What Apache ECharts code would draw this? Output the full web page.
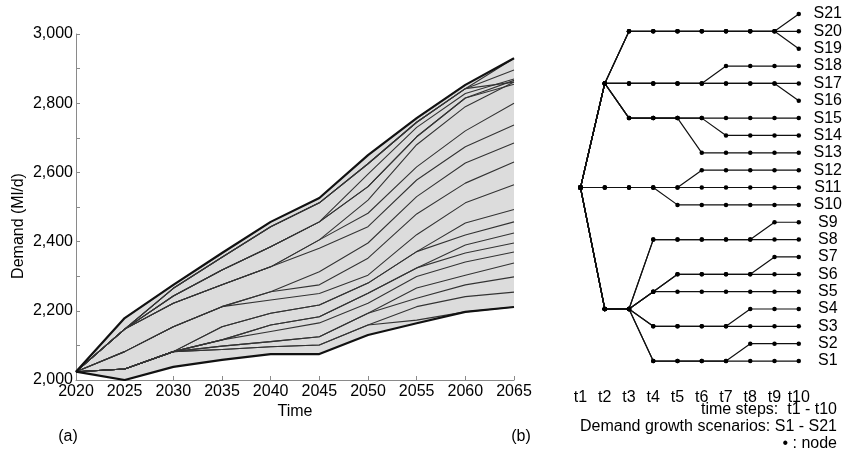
<!DOCTYPE html>
<html><head><meta charset="utf-8">
<script src="https://cdn.jsdelivr.net/npm/echarts@6/dist/echarts.min.js"></script>
<style>html,body{margin:0;padding:0;background:#fff}#c{width:845px;height:460px}</style>
</head><body><div id="c"></div>
<script>
// ---------- DATA ----------
const years = ['2020','2025','2030','2035','2040','2045','2050','2055','2060','2065'];
const yTicks = [2000, 2200, 2400, 2600, 2800, 3000];
const timeSteps = ['t1','t2','t3','t4','t5','t6','t7','t8','t9','t10'];
const scenarioNames = ['S1','S2','S3','S4','S5','S6','S7','S8','S9','S10','S11','S12','S13','S14','S15','S16','S17','S18','S19','S20','S21'];

const upperEnvelope = [2024, 2179, 2275, 2367, 2457, 2526, 2650, 2757, 2853, 2930];
const lowerEnvelope = [2024, 2000, 2038, 2058, 2075, 2075, 2130, 2164, 2197, 2211];

const demandS1  = [2024, 2032, 2082, 2088, 2096, 2101, 2159, 2173, 2197, 2211];
const demandS2  = [2024, 2032, 2082, 2088, 2096, 2101, 2159, 2212, 2241, 2254];
const demandS3  = [2024, 2032, 2082, 2098, 2111, 2125, 2193, 2236, 2275, 2298];
const demandS4  = [2024, 2032, 2082, 2098, 2111, 2125, 2193, 2266, 2303, 2338];
const demandS5  = [2024, 2032, 2082, 2116, 2140, 2165, 2222, 2299, 2341, 2370];
const demandS6  = [2024, 2032, 2082, 2116, 2159, 2183, 2251, 2324, 2367, 2396];
const demandS7  = [2024, 2032, 2082, 2116, 2159, 2183, 2251, 2324, 2390, 2425];
const demandS8  = [2024, 2032, 2082, 2154, 2193, 2217, 2280, 2371, 2419, 2457];
const demandS9  = [2024, 2032, 2082, 2154, 2193, 2217, 2280, 2371, 2454, 2493];
const demandS10 = [2024, 2082, 2154, 2212, 2231, 2250, 2303, 2420, 2512, 2564];
const demandS11 = [2024, 2082, 2154, 2212, 2255, 2275, 2352, 2480, 2569, 2630];
const demandS12 = [2024, 2082, 2154, 2212, 2255, 2313, 2396, 2530, 2627, 2685];
const demandS13 = [2024, 2147, 2222, 2275, 2327, 2381, 2443, 2578, 2674, 2737];
const demandS14 = [2024, 2147, 2222, 2275, 2327, 2405, 2482, 2616, 2720, 2800];
const demandS15 = [2024, 2147, 2222, 2275, 2327, 2405, 2520, 2680, 2790, 2861];
const demandS16 = [2024, 2147, 2243, 2318, 2385, 2457, 2559, 2703, 2815, 2855];
const demandS17 = [2024, 2147, 2243, 2318, 2385, 2457, 2559, 2703, 2815, 2866];
const demandS18 = [2024, 2147, 2243, 2318, 2385, 2457, 2595, 2730, 2828, 2870];
const demandS19 = [2024, 2147, 2265, 2355, 2443, 2512, 2625, 2745, 2842, 2861];
const demandS20 = [2024, 2147, 2265, 2355, 2443, 2512, 2625, 2745, 2842, 2896];
const demandS21 = [2024, 2147, 2265, 2355, 2443, 2512, 2625, 2745, 2842, 2930];

// scenario tree: row (scenario level) occupied at each time step t1..t10
const rowsS1  = [11, 4, 4, 1, 1, 1, 1, 1, 1, 1];
const rowsS2  = [11, 4, 4, 1, 1, 1, 1, 2, 2, 2];
const rowsS3  = [11, 4, 4, 3, 3, 3, 3, 3, 3, 3];
const rowsS4  = [11, 4, 4, 3, 3, 3, 3, 4, 4, 4];
const rowsS5  = [11, 4, 4, 5, 5, 5, 5, 5, 5, 5];
const rowsS6  = [11, 4, 4, 5, 6, 6, 6, 6, 6, 6];
const rowsS7  = [11, 4, 4, 5, 6, 6, 6, 6, 7, 7];
const rowsS8  = [11, 4, 4, 8, 8, 8, 8, 8, 8, 8];
const rowsS9  = [11, 4, 4, 8, 8, 8, 8, 8, 9, 9];
const rowsS10 = [11, 11, 11, 11, 10, 10, 10, 10, 10, 10];
const rowsS11 = [11, 11, 11, 11, 11, 11, 11, 11, 11, 11];
const rowsS12 = [11, 11, 11, 11, 11, 12, 12, 12, 12, 12];
const rowsS13 = [11, 17, 15, 15, 15, 13, 13, 13, 13, 13];
const rowsS14 = [11, 17, 15, 15, 15, 15, 14, 14, 14, 14];
const rowsS15 = [11, 17, 15, 15, 15, 15, 15, 15, 15, 15];
const rowsS16 = [11, 17, 17, 17, 17, 17, 17, 17, 17, 16];
const rowsS17 = [11, 17, 17, 17, 17, 17, 17, 17, 17, 17];
const rowsS18 = [11, 17, 17, 17, 17, 17, 18, 18, 18, 18];
const rowsS19 = [11, 17, 20, 20, 20, 20, 20, 20, 20, 19];
const rowsS20 = [11, 17, 20, 20, 20, 20, 20, 20, 20, 20];
const rowsS21 = [11, 17, 20, 20, 20, 20, 20, 20, 20, 21];

const demandList = [demandS1,demandS2,demandS3,demandS4,demandS5,demandS6,demandS7,demandS8,demandS9,demandS10,demandS11,demandS12,demandS13,demandS14,demandS15,demandS16,demandS17,demandS18,demandS19,demandS20,demandS21];
const rowsList = [rowsS1,rowsS2,rowsS3,rowsS4,rowsS5,rowsS6,rowsS7,rowsS8,rowsS9,rowsS10,rowsS11,rowsS12,rowsS13,rowsS14,rowsS15,rowsS16,rowsS17,rowsS18,rowsS19,rowsS20,rowsS21];

// ---------- CHART ----------
const FONT = 'Liberation Sans, Arial, sans-serif';
const FS = 16;
const AXIS_GRAY = '#8a8a8a';
const chart = echarts.init(document.getElementById('c'), null, {renderer: 'canvas'});

const series = [];
series.push({
  type: 'line', xAxisIndex: 0, yAxisIndex: 0, stack: 'band', data: lowerEnvelope,
  symbol: 'none', lineStyle: {opacity: 0}, silent: true, z: 1
});
series.push({
  type: 'line', xAxisIndex: 0, yAxisIndex: 0, stack: 'band',
  data: upperEnvelope.map((v, i) => v - lowerEnvelope[i]),
  symbol: 'none', lineStyle: {opacity: 0}, areaStyle: {color: '#dcdcdc', opacity: 1}, silent: true, z: 1
});
demandList.forEach((d, i) => {
  series.push({
    type: 'line', name: scenarioNames[i], xAxisIndex: 0, yAxisIndex: 0, data: d,
    symbol: 'none', lineStyle: {color: '#333', width: 1.1}, silent: true, z: 3
  });
});
[upperEnvelope, lowerEnvelope].forEach(d => {
  series.push({
    type: 'line', xAxisIndex: 0, yAxisIndex: 0, data: d,
    symbol: 'none', lineStyle: {color: '#111', width: 2.2}, silent: true, z: 4
  });
});
rowsList.forEach((r, i) => {
  series.push({
    type: 'line', name: 'tree' + scenarioNames[i], xAxisIndex: 1, yAxisIndex: 1,
    data: r.map((row, t) => [t + 1, row]),
    symbol: 'circle', symbolSize: 4.5, showAllSymbol: true,
    itemStyle: {color: '#000'}, lineStyle: {color: '#111', width: 1.2}, silent: true, z: 3
  });
});

const option = {
  animation: false,
  backgroundColor: '#fff',
  textStyle: {fontFamily: FONT},
  grid: [
    {left: 76, top: 34, width: 438, height: 346},
    {left: 580.5, top: 14, width: 220.5, height: 364.4}
  ],
  xAxis: [
    {
      gridIndex: 0, type: 'category', data: years, boundaryGap: false,
      axisLine: {lineStyle: {color: AXIS_GRAY, width: 1}},
      axisTick: {inside: true, length: 4, lineStyle: {color: AXIS_GRAY}},
      axisLabel: {color: '#000', fontSize: FS, margin: 4, fontFamily: FONT},
      splitLine: {show: false}
    },
    {
      gridIndex: 1, type: 'value', min: 1, max: 10, interval: 1,
      axisLine: {show: false}, axisTick: {show: false}, splitLine: {show: false},
      axisLabel: {color: '#000', fontSize: FS, margin: 11, fontFamily: FONT,
        formatter: v => timeSteps[v - 1] || ''}
    }
  ],
  yAxis: [
    {
      gridIndex: 0, type: 'value', min: 2000, max: 3000, interval: 100,
      axisLine: {show: true, lineStyle: {color: AXIS_GRAY, width: 1}},
      axisTick: {show: true, inside: true, length: 4, lineStyle: {color: AXIS_GRAY}},
      axisLabel: {color: '#000', fontSize: FS, margin: 3, fontFamily: FONT,
        formatter: v => yTicks.indexOf(v) >= 0 ? v.toLocaleString('en-US') : ''},
      splitLine: {show: false}
    },
    {
      gridIndex: 1, type: 'value', min: 0, max: 21, interval: 1, position: 'right',
      axisLine: {show: false}, axisTick: {show: false}, splitLine: {show: false},
      axisLabel: {color: '#000', fontSize: FS, margin: 29, align: 'center', fontFamily: FONT,
        formatter: v => (v >= 1 ? scenarioNames[v - 1] : '')}
    }
  ],
  graphic: [
    {type: 'text', x: 19, y: 226, rotation: Math.PI / 2,
      style: {text: 'Demand (Ml/d)', font: FS + 'px ' + FONT, fill: '#000', textAlign: 'center', textVerticalAlign: 'middle'}},
    {type: 'text', x: 295, y: 412,
      style: {text: 'Time', font: FS + 'px ' + FONT, fill: '#000', textAlign: 'center', textVerticalAlign: 'middle'}},
    {type: 'text', x: 68, y: 437,
      style: {text: '(a)', font: FS + 'px ' + FONT, fill: '#000', textAlign: 'center', textVerticalAlign: 'middle'}},
    {type: 'text', x: 521, y: 437,
      style: {text: '(b)', font: FS + 'px ' + FONT, fill: '#000', textAlign: 'center', textVerticalAlign: 'middle'}},
    {type: 'text', x: 837, y: 410,
      style: {text: 'time steps:  t1 - t10', font: FS + 'px ' + FONT, fill: '#000', textAlign: 'right', textVerticalAlign: 'middle'}},
    {type: 'text', x: 837, y: 427,
      style: {text: 'Demand growth scenarios: S1 - S21', font: FS + 'px ' + FONT, fill: '#000', textAlign: 'right', textVerticalAlign: 'middle'}},
    {type: 'text', x: 837, y: 444,
      style: {text: '\u2022 : node', font: FS + 'px ' + FONT, fill: '#000', textAlign: 'right', textVerticalAlign: 'middle'}}
  ],
  series: series
};
chart.setOption(option);
</script>
</body></html>
